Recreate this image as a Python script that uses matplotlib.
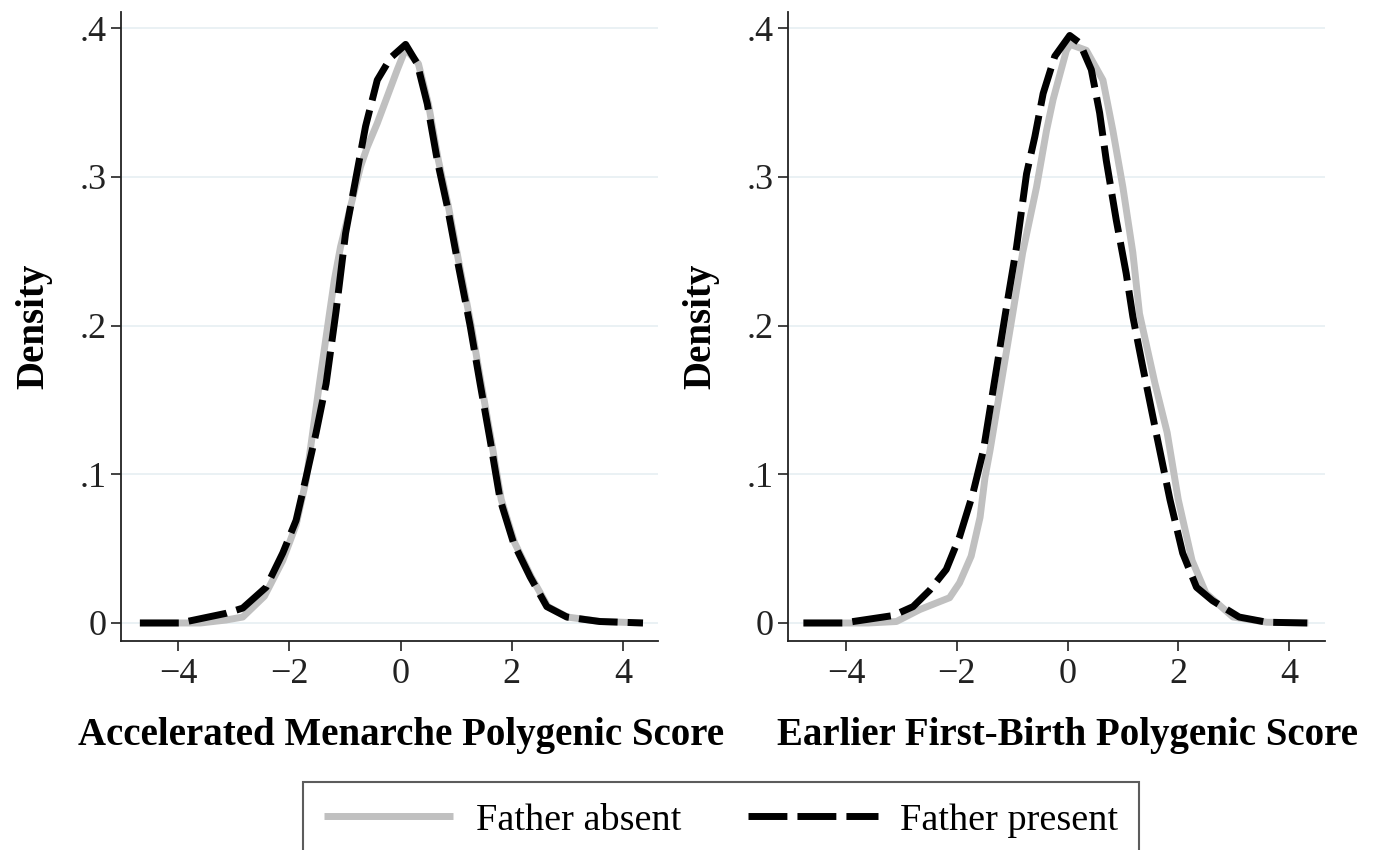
import numpy as np
import matplotlib.pyplot as plt

plt.rcParams['font.family'] = ['Liberation Serif', 'DejaVu Serif']

# Левая панель: Accelerated Menarche Polygenic Score
men_absent_x = [-4.69, -3.6, -3.14, -2.84, -2.45, -2.12, -1.88, -1.70, -1.46, -1.28, -1.19,
                -1.08, -0.96, -0.84, -0.72, -0.60, -0.42, -0.24, -0.06, 0.09, 0.32, 0.50,
                0.68, 0.86, 1.04, 1.27, 1.45, 1.63, 1.81, 2.05, 2.35, 2.65, 3.0, 3.6, 4.36]
men_absent_y = [0, 0, 0.002, 0.004, 0.018, 0.042, 0.066, 0.096, 0.161, 0.208, 0.231,
                0.253, 0.271, 0.289, 0.307, 0.320, 0.336, 0.354, 0.372, 0.386, 0.376, 0.349,
                0.311, 0.280, 0.244, 0.2, 0.161, 0.123, 0.083, 0.054, 0.031, 0.011, 0.004,
                0.001, 0]
men_present_x = [-4.69, -3.97, -3.14, -2.84, -2.42, -2.12, -1.88, -1.70, -1.52, -1.34, -1.16,
                 -0.99, -0.81, -0.63, -0.42, -0.18, 0.09, 0.30, 0.48, 0.66, 0.84, 1.02, 1.25,
                 1.43, 1.61, 1.79, 2.03, 2.33, 2.63, 2.99, 3.58, 4.36]
men_present_y = [0, 0, 0.0065, 0.01, 0.024, 0.047, 0.069, 0.098, 0.128, 0.161, 0.21,
                 0.262, 0.298, 0.334, 0.365, 0.380, 0.389, 0.376, 0.349, 0.311, 0.280, 0.244,
                 0.2, 0.161, 0.123, 0.083, 0.054, 0.031, 0.011, 0.004, 0.001, 0]

# Правая панель: Earlier First-Birth Polygenic Score
fb_absent_x = [-4.77, -3.6, -3.09, -2.67, -2.13, -1.95, -1.74, -1.58, -1.49, -1.40, -0.99,
               -0.81, -0.56, -0.38, -0.26, -0.02, 0.05, 0.34, 0.64, 0.82, 1.00, 1.18, 1.30,
               1.58, 1.80, 2.00, 2.25, 2.50, 2.99, 3.6, 4.35]
fb_absent_y = [0, 0, 0.001, 0.009, 0.017, 0.027, 0.045, 0.071, 0.098, 0.116, 0.208,
               0.249, 0.293, 0.331, 0.352, 0.385, 0.389, 0.385, 0.365, 0.331, 0.293, 0.249,
               0.208, 0.161, 0.128, 0.083, 0.042, 0.020, 0.004, 0.0005, 0]
fb_present_x = [-4.77, -4.05, -3.15, -2.79, -2.49, -2.19, -1.95, -1.71, -1.52, -1.10, -0.92,
                -0.74, -0.59, -0.44, -0.23, 0.04, 0.22, 0.43, 0.58, 0.70, 0.88, 1.06, 1.18,
                1.36, 1.60, 1.85, 2.08, 2.33, 2.62, 3.10, 3.6, 4.33]
fb_present_y = [0, 0, 0.005, 0.011, 0.022, 0.036, 0.058, 0.087, 0.116, 0.213, 0.253,
                0.302, 0.327, 0.356, 0.381, 0.395, 0.39, 0.372, 0.343, 0.311, 0.271, 0.235,
                0.206, 0.172, 0.128, 0.083, 0.047, 0.024, 0.015, 0.004, 0.0005, 0]

x_ticks = [-4, -2, 0, 2, 4]
x_tick_labels = ['\u22124', '\u22122', '0', '2', '4']
y_ticks = [0, 0.1, 0.2, 0.3, 0.4]
y_tick_labels = ['0', '.1', '.2', '.3', '.4']

panels = [
    ('Accelerated Menarche Polygenic Score', men_absent_x, men_absent_y, men_present_x, men_present_y),
    ('Earlier First-Birth Polygenic Score', fb_absent_x, fb_absent_y, fb_present_x, fb_present_y),
]

fig = plt.figure(figsize=(13.78, 8.5), dpi=100)
rects = [[0.0878, 0.2459, 0.3897, 0.740], [0.5718, 0.2459, 0.3897, 0.740]]
xlims = [(-5.03, 4.63), (-5.05, 4.65)]

for rect, xl, (xlabel, ax_x, ax_y, px_x, px_y) in zip(rects, xlims, panels):
    ax = fig.add_axes(rect)
    for yv in y_ticks:
        ax.axhline(yv, color='#e6eff2', linewidth=1.2, zorder=0)
    l1, = ax.plot(ax_x, ax_y, color='#c0c0c0', linewidth=5, solid_capstyle='butt',
                  label='Father absent', zorder=2)
    l2, = ax.plot(px_x, px_y, color='black', linewidth=5, dashes=(5.6, 1.45),
                  dash_capstyle='butt', label='Father present', zorder=3)
    ax.set_xlim(*xl)
    ax.set_ylim(-0.0121, 0.4108)
    ax.set_xticks(x_ticks)
    ax.set_xticklabels(x_tick_labels)
    ax.set_yticks(y_ticks)
    ax.set_yticklabels(y_tick_labels)
    ax.tick_params(direction='out', length=7, width=1.2, labelsize=26, colors='#222222', pad=3)
    ax.tick_params(axis='x', pad=5)
    for s in ['top', 'right']:
        ax.spines[s].set_visible(False)
    for s in ['left', 'bottom']:
        ax.spines[s].set_linewidth(1.3)
        ax.spines[s].set_color('#222222')
    ax.set_xlabel(xlabel, fontsize=28, fontweight='bold', labelpad=19)
    # подпись оси x центрирована по нулю, как в оригинале
    ax.xaxis.label.set_x((0 - xl[0]) / (xl[1] - xl[0]))
    ax.set_ylabel('Density', fontsize=28, fontweight='bold', labelpad=20)

leg = fig.legend([l1, l2], ['Father absent', 'Father present'], loc='upper center',
                 bbox_to_anchor=(0.523, 0.08), ncol=2, fontsize=27.5, frameon=True,
                 fancybox=False, handlelength=3.4, columnspacing=1.75, handletextpad=0.58,
                 borderpad=0.55, borderaxespad=0)
leg.get_frame().set_edgecolor('#333333')
leg.get_frame().set_linewidth(1.5)

fig.savefig('out.png', dpi=100)
